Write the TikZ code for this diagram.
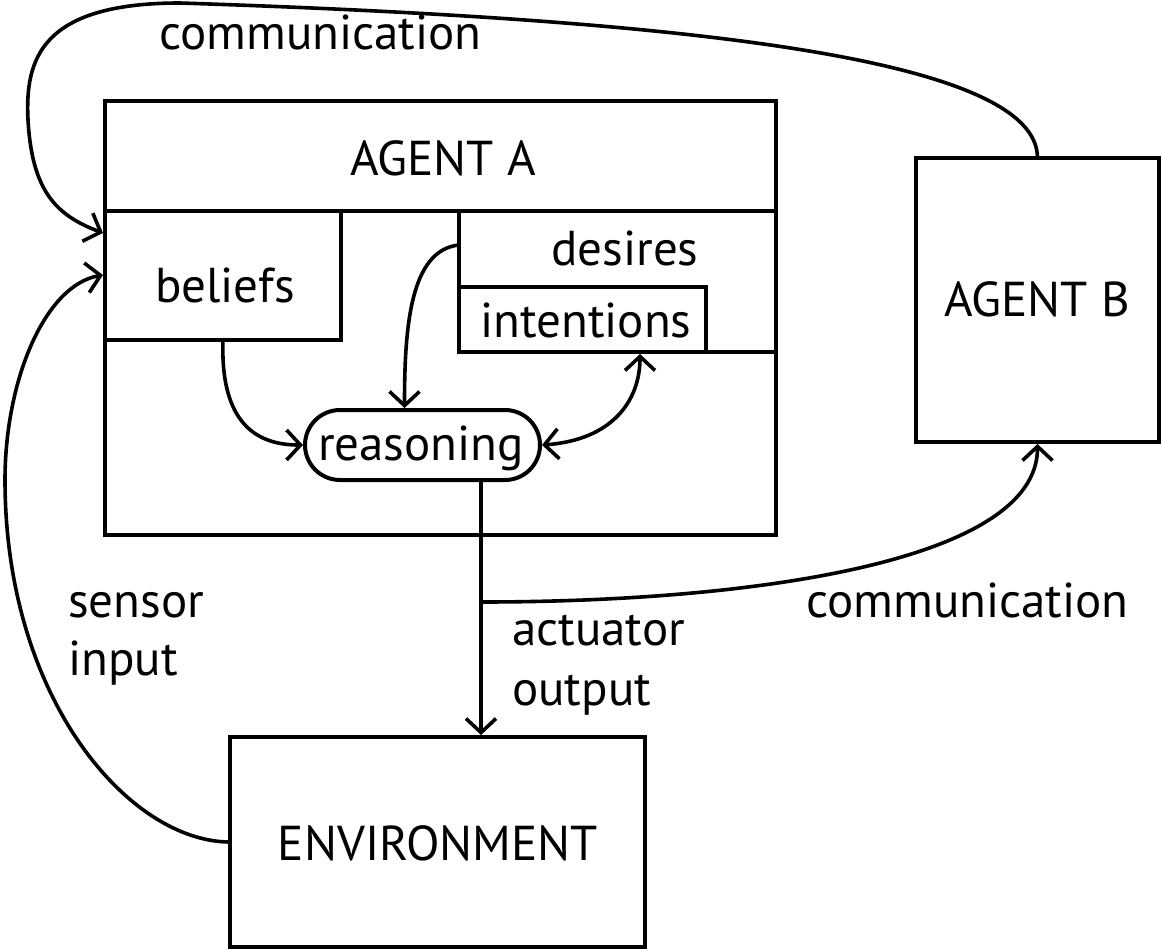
\documentclass[tikz,border=0pt]{standalone}
\usepackage{fontspec}
\setmainfont{PT Sans}
\usetikzlibrary{arrows.meta,shapes.misc,calc}
\begin{document}
\begin{tikzpicture}[x=1pt,y=-1pt,
  box/.style={draw,line width=4pt,inner sep=0pt,outer sep=0pt,rectangle},
  lbl/.style={font=\fontsize{49}{56}\selectfont,inner sep=0pt},
  tip/.tip={Straight Barb[length=14pt,width=30pt]},
  conn/.style={line width=3.6pt,-tip},
  conn2/.style={line width=3.6pt,tip-tip}]
\fill[white] (0,0) rectangle (1161,950);
\useasboundingbox (0,0) rectangle (1161,950);
% boxes
\node[box,minimum width=671pt,minimum height=434pt] (agentA) at (440.5,318) {};
\node[box,minimum width=236pt,minimum height=129pt] (beliefs) at (223,275.5) {};
\node[box,minimum width=317pt,minimum height=141pt] (desires) at (617.5,281.5) {};
\node[box,minimum width=247pt,minimum height=65pt] (intentions) at (582.5,319.5) {};
\node[draw,line width=4pt,rounded rectangle,inner sep=0pt,outer sep=0pt,minimum width=235pt,minimum height=70pt] (reasoning) at (422.5,445) {};
\node[box,minimum width=243pt,minimum height=284pt] (agentB) at (1037.5,300) {};
\node[box,minimum width=415pt,minimum height=210pt] (env) at (437.5,842) {};
\draw[line width=4pt] (beliefs.north east) -- (desires.north west);
% labels
\node[lbl,anchor=base] at (443,175) {AGENT A};
\node[lbl,anchor=base] at (1037,316) {AGENT B};
\node[lbl,anchor=base] at (225,302) {beliefs};
\node[lbl,anchor=base] at (625,265) {desires};
\node[lbl,anchor=base] at (586,337) {intentions};
\node[lbl,anchor=base] at (421,460) {reasoning};
\node[lbl,anchor=base] at (438,860) {ENVIRONMENT};
\node[lbl,anchor=base west] at (159,50) {communication};
\node[lbl,anchor=base west] at (806,617) {communication};
\node[lbl,anchor=base west] at (68,617) {sensor};
\node[lbl,anchor=base west] at (68,675) {input};
\node[lbl,anchor=base west] at (512,645) {actuator};
\node[lbl,anchor=base west] at (512,705) {output};
% coordinates
\coordinate (bIn1) at ($(beliefs.north west)+(-2,22)$);
\coordinate (bIn2) at ($(beliefs.north west)+(-2,64)$);
\coordinate (dOut) at ($(desires.north west)+(0,34)$);
\coordinate (rTop) at ($(reasoning.north)+(-18,-2)$);
\coordinate (iBot) at ($(intentions.south)+(57.5,2)$);
\coordinate (rBot) at ($(reasoning.south)+(58.5,0)$);
\coordinate (branch) at ($(rBot)+(0,122)$);
\coordinate (envTop) at ($(rBot |- env.north)+(0,-2)$);
\coordinate (bTop) at ($(agentB.north)+(0,0)$);
\coordinate (bBot) at ($(agentB.south)+(0,2)$);
\coordinate (topApex) at (180,3);
\coordinate (leftTurn) at (28,120);
\coordinate (sensorLeft) at (5,480);
% connectors
\draw[conn] (beliefs.south) .. controls +(-3,85) and +(-45,0) .. ($(reasoning.west)+(-2,0)$);
\draw[conn] (dOut) .. controls +(-49,5) and +(0,-80) .. (rTop);
\draw[conn2] ($(reasoning.east)+(2,0)$) .. controls +(70,-5) and +(0,47) .. (iBot);
\draw[conn] (rBot) -- (envTop);
\draw[conn] (branch) .. controls +(269,0) and +(0,118) .. (bBot);
\draw[conn] (bTop) .. controls +(0,-98) and (700,20) .. (topApex)
  .. controls (40,3) and (25,60) .. (leftTurn)
  .. controls (32,190) and (55,215) .. (bIn1);
\draw[conn] (env.west) .. controls +(-100,0) and (5,700) .. (sensorLeft)
  .. controls (5,380) and (45,285) .. (bIn2);
\end{tikzpicture}
\end{document}
